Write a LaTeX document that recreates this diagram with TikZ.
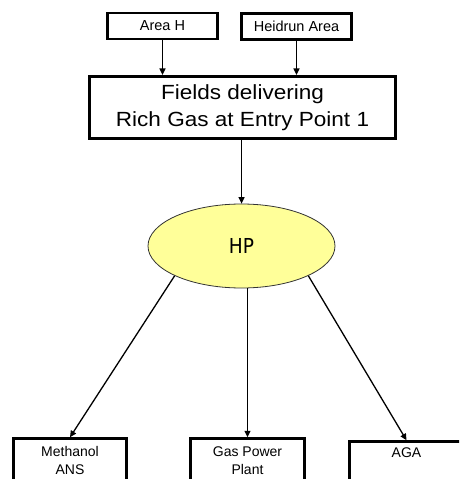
\documentclass[tikz,border=0pt]{standalone}
\usepackage{fontspec}
\setmainfont{Liberation Sans}
\newfontfamily\fieldsfont[FakeStretch=1.1]{Liberation Sans}
\newfontfamily\hpfont[FakeStretch=0.9]{DejaVu Sans}
\usetikzlibrary{shapes.geometric,arrows.meta}
\definecolor{hpyellow}{HTML}{FFFF99}
\begin{document}
\begin{tikzpicture}[x=1pt,y=-1pt,
  box/.style={draw=black, line width=2.6pt, rectangle, inner sep=0pt, align=center},
  topbox/.style={box, minimum width=110.5pt, minimum height=26pt, font=\fontsize{14.5}{17}\selectfont},
  outbox/.style={box, anchor=north, font=\fontsize{14}{18}\selectfont},
  conn/.style={line width=1.3pt, -{Triangle[length=6.5pt,width=6pt]}}
]
\path[use as bounding box] (0,0) rectangle (459,479);
\clip (0,0) rectangle (459,479);
\node[topbox] (ah) at (162.5,26) {Area H};
\node[topbox] (hr) at (296.5,26.5) {Heidrun Area};
\node[box, minimum width=306.5pt, minimum height=62.5pt, font=\fieldsfont\fontsize{20.5}{27.6}\selectfont] (fields) at (242.5,107.5) {Fields delivering\\Rich Gas at Entry Point 1};
\node[ellipse, draw=black!80, line width=0.8pt, fill=hpyellow, minimum width=187pt, minimum height=84pt, inner sep=0pt, font=\hpfont\fontsize{20.6}{24}\selectfont] (hp) at (241.5,246) {HP};
\node[outbox] (meth) at (70,437.25) {\parbox[t][60pt][t]{113.5pt}{\centering\rule{0pt}{17.5pt}Methanol\\ANS}};
\node[outbox] (gpp) at (247.5,437.25) {\parbox[t][60pt][t]{114.5pt}{\centering\rule{0pt}{17.5pt}Gas Power\\Plant}};
\node[outbox] (aga) at (406.5,440.25) {\parbox[t][60pt][t]{114.5pt}{\centering\rule{0pt}{16pt}AGA}};
\draw[conn] (ah.south) -- (ah.south |- fields.north);
\draw[conn] (hr.south) -- (hr.south |- fields.north);
\draw[conn] (fields.south -| hp.north) -- (hp.north);
\draw[conn] (hp.204) -- (meth.north);
\draw[conn] (gpp.north |- hp.south) -- (gpp.north);
\draw[conn] (hp.336) -- (aga.north);
\end{tikzpicture}
\end{document}
